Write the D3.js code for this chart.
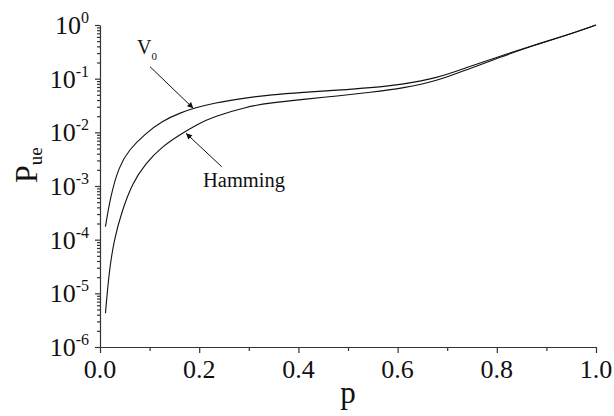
<!DOCTYPE html>
<html>
<head>
<meta charset="utf-8">
<script src="https://cdn.jsdelivr.net/npm/d3@7"></script>
<style>
  body { margin: 0; background: #fff; }
</style>
</head>
<body>
<div id="viz"></div>
<script>
// values (P_ue stored as log10)
const pV0 = [0.011, 0.021, 0.038, 0.058, 0.092, 0.125, 0.162, 0.190, 0.229, 0.296, 0.344, 0.410, 0.478, 0.545, 0.612, 0.679, 0.740, 0.807, 0.873, 0.941, 1.0]
const logV0 = [-3.758, -3.199, -2.640, -2.329, -2.018, -1.790, -1.635, -1.550, -1.455, -1.355, -1.300, -1.255, -1.215, -1.170, -1.105, -0.990, -0.790, -0.580, -0.380, -0.190, 0]

const pHam = [0.011, 0.018, 0.028, 0.045, 0.065, 0.092, 0.125, 0.162, 0.196, 0.229, 0.296, 0.344, 0.410, 0.478, 0.545, 0.612, 0.679, 0.740, 0.807, 0.873, 0.941, 1.0]
const logHam = [-5.372, -4.627, -4.006, -3.447, -2.950, -2.577, -2.268, -2.040, -1.850, -1.708, -1.522, -1.450, -1.385, -1.323, -1.255, -1.175, -1.045, -0.830, -0.600, -0.385, -0.190, 0]

const xTicks = [0, 0.2, 0.4, 0.6, 0.8, 1.0]
const xMinor = [0.1, 0.3, 0.5, 0.7, 0.9]
const yExps = [0, -1, -2, -3, -4, -5, -6]

const W = 614, H = 416
const FONT = "Liberation Serif"
const svg = d3.select("#viz").append("svg").attr("width", W).attr("height", H)
  .attr("font-family", FONT)

const x = d3.scaleLinear().domain([0, 1]).range([100, 596])
const y = d3.scaleLog().domain([1e-6, 1]).range([347, 25])

//arrow head
svg.append("defs").append("marker")
  .attr("id", "arr")
  .attr("viewBox", "0 0 10 10")
  .attr("refX", 10).attr("refY", 5)
  .attr("markerWidth", 9).attr("markerHeight", 6)
  .attr("markerUnits", "userSpaceOnUse")
  .attr("orient", "auto")
  .append("path").attr("d", "M0,0 L10,5 L0,10 Z").attr("fill", "#111")

// minor log ticks 2..9
let yMinor = []
for (let e = -6; e < 0; e++) {
  for (let k = 2; k <= 9; k++) yMinor.push(k * Math.pow(10, e))
}

const yAxisG = svg.append("g").attr("transform", "translate(100,0)")
yAxisG.call(d3.axisLeft(y).tickValues(yExps.map(e => Math.pow(10, e))).tickSize(5).tickFormat("").tickSizeOuter(0))
yAxisG.append("g").call(d3.axisLeft(y).tickValues(yMinor).tickSize(3).tickFormat("").tickSizeOuter(0))
  .select(".domain").remove()

const xAxisG = svg.append("g").attr("transform", "translate(0,347)")
xAxisG.call(d3.axisBottom(x).tickValues(xTicks).tickSize(6).tickFormat("").tickSizeOuter(0))
xAxisG.append("g").call(d3.axisBottom(x).tickValues(xMinor).tickSize(4).tickFormat("").tickSizeOuter(0))
  .select(".domain").remove()

svg.selectAll(".domain, .tick line").attr("stroke", "#333").attr("stroke-width", 1.2)

// y tick labels 10^n
yExps.forEach(e => {
  const t = svg.append("text")
    .attr("font-family", FONT).attr("fill", "#111")
    .attr("x", 89).attr("y", y(Math.pow(10, e)) + 9)
    .attr("text-anchor", "end")
    .style("font-size", "26px")
  t.append("tspan").text("10")
  t.append("tspan").attr("dy", -11).style("font-size", "16px").text(String(e))
})

// x tick labels
svg.selectAll(".xlab").data(xTicks).enter().append("text")
  .attr("class", "xlab")
  .attr("font-family", FONT).attr("fill", "#111")
  .attr("x", d => x(d)).attr("y", 378)
  .attr("text-anchor", "middle")
  .style("font-size", "26px")
  .text(d => d.toFixed(1))

// axis titles
svg.append("text").attr("x", 348).attr("y", 403)
  .attr("font-family", FONT).attr("fill", "#111")
  .attr("text-anchor", "middle").style("font-size", "31px").text("p")

const yt = svg.append("text")
  .attr("font-family", FONT).attr("fill", "#111")
  .attr("transform", "translate(37,183) rotate(-90)")
  .style("font-size", "32px")
yt.append("tspan").text("P")
yt.append("tspan").attr("dy", 5).style("font-size", "19px").text("ue")

const line = d3.line()
  .x(d => x(d[0]))
  .y(d => y(Math.pow(10, d[1])))
  .curve(d3.curveBasis)

svg.append("path").datum(d3.zip(pV0, logV0))
  .attr("d", line).attr("fill", "none").attr("stroke", "#111").attr("stroke-width", 1.1)
svg.append("path").datum(d3.zip(pHam, logHam))
  .attr("d", line).attr("fill", "none").attr("stroke", "#111").attr("stroke-width", 1.1)

// annotations
svg.append("line")
  .attr("x1", 150).attr("y1", 66.7).attr("x2", 193.3).attr("y2", 108.3)
  .attr("stroke", "#111").attr("stroke-width", 1).attr("marker-end", "url(#arr)")
svg.append("line")
  .attr("x1", 221.7).attr("y1", 166.7).attr("x2", 186).attr("y2", 133.3)
  .attr("stroke", "#111").attr("stroke-width", 1).attr("marker-end", "url(#arr)")

const vl = svg.append("text").attr("font-family", FONT).attr("fill", "#111")
  .attr("x", 137).attr("y", 53.5).style("font-size", "20px")
vl.append("tspan").text("V")
vl.append("tspan").attr("dy", 6).style("font-size", "11px").text("0")

svg.append("text").attr("font-family", FONT).attr("fill", "#111")
  .attr("x", 203).attr("y", 187).style("font-size", "20.5px").text("Hamming")
</script>
</body>
</html>
